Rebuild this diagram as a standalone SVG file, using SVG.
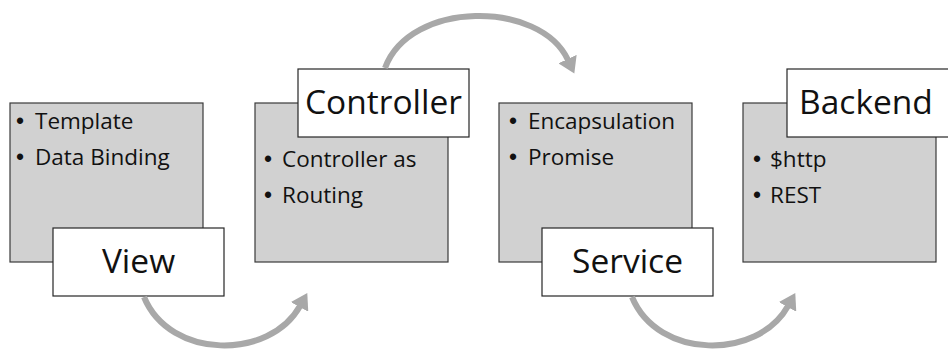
<svg xmlns="http://www.w3.org/2000/svg" width="948" height="352" viewBox="0 0 948 352">
  <style>
    .card { fill: #d1d1d1; stroke: #3a3a3a; stroke-width: 1.2; }
    .tag { fill: #ffffff; stroke: #262626; stroke-width: 1.2; }
    .item { font-family: "Open Sans", "Liberation Sans", sans-serif; font-size: 22.5px; fill: #111111; }
    .dot { font-family: "Liberation Sans", Arial, sans-serif; font-size: 23px; }
    .title { font-family: "Open Sans", "Liberation Sans", sans-serif; font-size: 33.5px; fill: #111111; text-anchor: middle; }
    .flow { fill: none; stroke: #a8a8a8; stroke-width: 6; marker-end: url(#head); }
  </style>
  <defs>
    <marker id="head" markerUnits="userSpaceOnUse" markerWidth="16" markerHeight="20" viewBox="0 0 16 20" refX="1" refY="10" orient="auto">
      <path d="M0,0 L16,10 L0,20 z" fill="#a8a8a8"/>
    </marker>
  </defs>

  <rect width="948" height="352" fill="#ffffff"/>

  <!-- View -->
  <g id="view">
    <rect class="card" x="10" y="103" width="193" height="159"/>
    <text class="item" y="129"><tspan class="dot" x="16">•</tspan><tspan x="35">Template</tspan></text>
    <text class="item" y="165"><tspan class="dot" x="16">•</tspan><tspan x="35">Data Binding</tspan></text>
    <rect class="tag" x="53" y="228" width="171" height="68"/>
    <text class="title" x="138.5" y="273">View</text>
  </g>

  <!-- Controller -->
  <g id="controller">
    <rect class="card" x="255" y="103" width="193" height="159"/>
    <text class="item" y="167"><tspan class="dot" x="264">•</tspan><tspan x="282">Controller as</tspan></text>
    <text class="item" y="203"><tspan class="dot" x="264">•</tspan><tspan x="282">Routing</tspan></text>
    <rect class="tag" x="298" y="69" width="171" height="68"/>
    <text class="title" x="383.5" y="114">Controller</text>
  </g>

  <!-- Service -->
  <g id="service">
    <rect class="card" x="499" y="103" width="193" height="159"/>
    <text class="item" y="129"><tspan class="dot" x="509">•</tspan><tspan x="528">Encapsulation</tspan></text>
    <text class="item" y="165"><tspan class="dot" x="509">•</tspan><tspan x="528">Promise</tspan></text>
    <rect class="tag" x="542" y="228" width="171" height="68"/>
    <text class="title" x="627.5" y="273">Service</text>
  </g>

  <!-- Backend -->
  <g id="backend">
    <rect class="card" x="743" y="103" width="193" height="159"/>
    <text class="item" y="167"><tspan class="dot" x="753">•</tspan><tspan x="770">$http</tspan></text>
    <text class="item" y="203"><tspan class="dot" x="753">•</tspan><tspan x="770">REST</tspan></text>
    <rect class="tag" x="787" y="69" width="171" height="68"/>
    <text class="title" x="866" y="114">Backend</text>
  </g>

  <!-- curved flow arrows between stages -->
  <g id="connectors">
    <path class="flow" d="M144,297 C170,360 270,360 300,306"/>
    <path class="flow" d="M385,68 C410,0 540,0 568,60"/>
    <path class="flow" d="M632,297 C658,360 758,360 788,306"/>
  </g>
</svg>
